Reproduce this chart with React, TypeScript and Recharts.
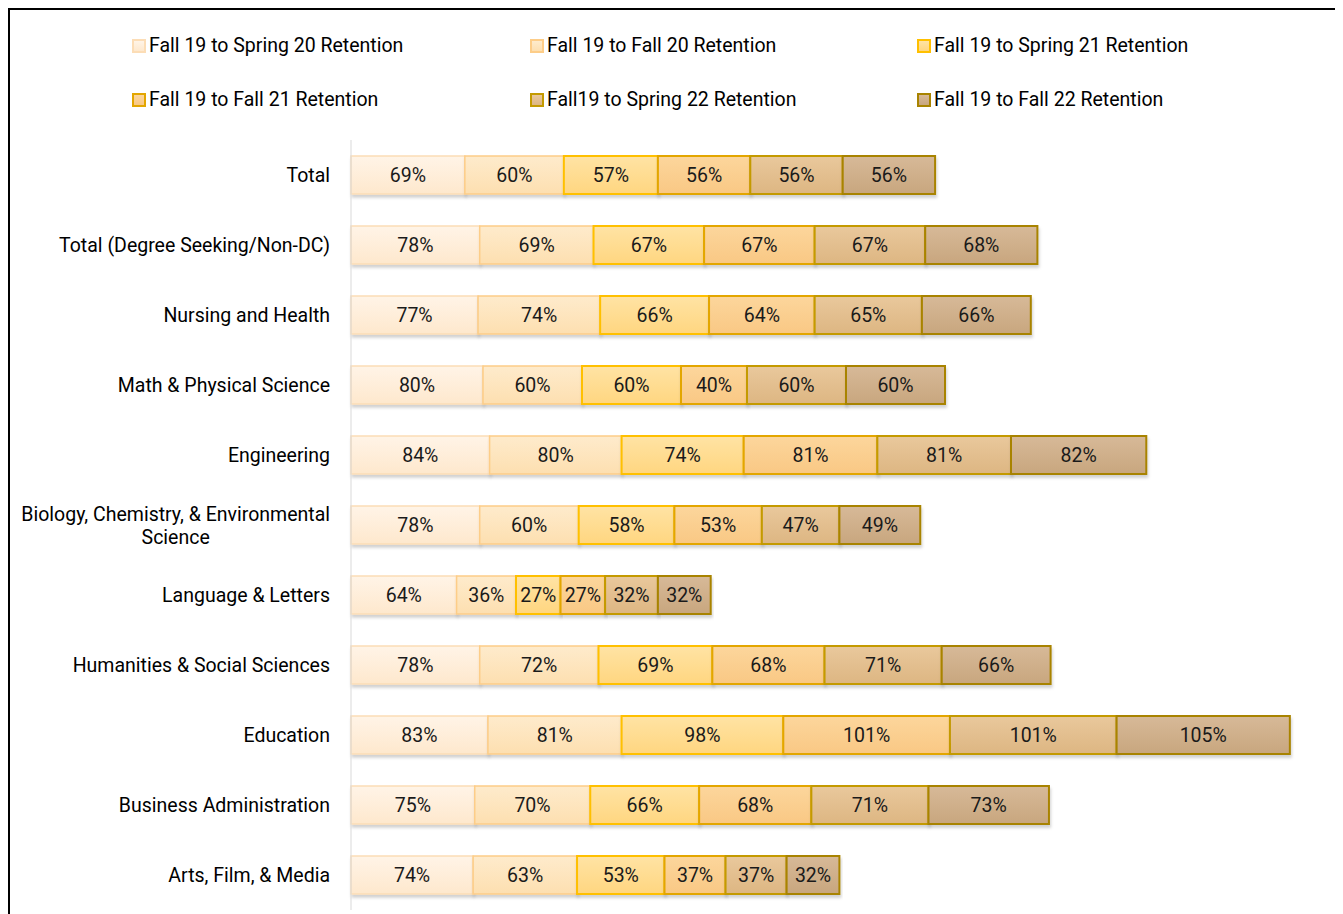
import React from 'react';
import { BarChart, Bar, XAxis, YAxis, LabelList, Rectangle, Text } from 'recharts';

const categories = [
  'Total',
  'Total (Degree Seeking/Non-DC)',
  'Nursing and Health',
  'Math & Physical Science',
  'Engineering',
  'Biology, Chemistry, & Environmental Science',
  'Language & Letters',
  'Humanities & Social Sciences',
  'Education',
  'Business Administration',
  'Arts, Film, & Media',
];

const seriesNames = [
  'Fall 19 to Spring 20 Retention',
  'Fall 19 to Fall 20 Retention',
  'Fall 19 to Spring 21 Retention',
  'Fall 19 to Fall 21 Retention',
  'Fall19 to Spring 22 Retention',
  'Fall 19 to Fall 22 Retention',
];

const spring20 = [69, 78, 77, 80, 84, 78, 64, 78, 83, 75, 74];
const fall20 = [60, 69, 74, 60, 80, 60, 36, 72, 81, 70, 63];
const spring21 = [57, 67, 66, 60, 74, 58, 27, 69, 98, 66, 53];
const fall21 = [56, 67, 64, 40, 81, 53, 27, 68, 101, 68, 37];
const spring22 = [56, 67, 65, 60, 81, 47, 32, 71, 101, 71, 37];
const fall22 = [56, 68, 66, 60, 82, 49, 32, 66, 105, 73, 32];

const seriesValues = [spring20, fall20, spring21, fall21, spring22, fall22];
const seriesKeys = ['s1', 's2', 's3', 's4', 's5', 's6'];

// top colour, bottom colour, border
const STYLES = [
  { top: '#FFF4E7', bottom: '#FEE8CD', stroke: '#FCDDB6' },
  { top: '#FEEBCC', bottom: '#FDDFB0', stroke: '#FDCD88' },
  { top: '#FFE3A4', bottom: '#FFD680', stroke: '#FFC000' },
  { top: '#FCD69C', bottom: '#F9C884', stroke: '#E3A600' },
  { top: '#E9C89C', bottom: '#DDB682', stroke: '#C49A00' },
  { top: '#D7B998', bottom: '#C8A67E', stroke: '#A88300' },
];

const data = categories.map((name, i) => {
  const row: any = { name };
  seriesKeys.forEach((k, j) => {
    row[k] = seriesValues[j][i];
  });
  return row;
});

const FONT = 'Roboto, "Noto Sans", sans-serif';
const FS = 19.5;

let ctx: CanvasRenderingContext2D | null = null;
const measure = (s: string) => {
  if (!ctx) ctx = document.createElement('canvas').getContext('2d');
  if (!ctx) return s.length * 9;
  ctx.font = `${FS}px ${FONT}`;
  return ctx.measureText(s).width;
};

const CategoryTick = (props: any) => {
  const { x, y, payload } = props;
  const label: string = payload.value;
  const right = x - 13;
  if (label.length > 34) {
    // long label wraps onto two centred lines
    const words = label.split(' ');
    const first = words.slice(0, -1).join(' ');
    const second = words[words.length - 1];
    const cx = right - measure(first) / 2;
    return (
      <g>
        <Text x={cx} y={y - 11} textAnchor="middle" verticalAnchor="middle" fontSize={FS} fontFamily={FONT} fill="#000">
          {first}
        </Text>
        <Text x={cx} y={y + 12} textAnchor="middle" verticalAnchor="middle" fontSize={FS} fontFamily={FONT} fill="#000">
          {second}
        </Text>
      </g>
    );
  }
  return (
    <Text x={right} y={y} textAnchor="end" verticalAnchor="middle" fontSize={FS} fontFamily={FONT} fill="#000">
      {label}
    </Text>
  );
};

const Legend6 = () => (
  <div style={{ position: 'absolute', left: 0, top: 0, width: '100%', height: 120, fontFamily: FONT, fontSize: FS }}>
    {seriesNames.map((n, i) => {
      const col = i % 3;
      const row = Math.floor(i / 3);
      const left = [122, 520, 907][col];
      const top = [25, 79][row];
      return (
        <div key={n} style={{ position: 'absolute', left, top, display: 'flex', alignItems: 'center', whiteSpace: 'nowrap', lineHeight: '22px' }}>
          <span
            style={{
              display: 'inline-block',
              width: 10,
              height: 10,
              border: `2px solid ${STYLES[i].stroke}`,
              background: `linear-gradient(${STYLES[i].top}, ${STYLES[i].bottom})`,
              marginRight: 3,
            }}
          />
          <span>{n}</span>
        </div>
      );
    })}
  </div>
);

const App = () => {
  return (
    <div
      style={{
        position: 'relative',
        width: 1329,
        height: 920,
        borderTop: '2px solid #000',
        borderLeft: '2px solid #000',
        borderRight: '2px solid #000',
        background: '#fff',
      }}
    >
      <Legend6 />
      <BarChart
        width={1329}
        height={904}
        data={data}
        layout="vertical"
        margin={{ top: 130, right: 31, bottom: 4, left: 0 }}
        barSize={38}
      >
        <defs>
          {STYLES.map((s, i) => (
            <linearGradient key={i} id={`grad${i}`} x1="0" y1="0" x2="0" y2="1">
              <stop offset="0%" stopColor={s.top} />
              <stop offset="100%" stopColor={s.bottom} />
            </linearGradient>
          ))}
          <filter id="barShadow" x="-5%" y="-20%" width="110%" height="160%">
            <feDropShadow dx="1" dy="3" stdDeviation="1.5" floodColor="#000" floodOpacity="0.18" />
          </filter>
        </defs>
        <XAxis type="number" domain={[0, 580]} hide />
        <YAxis
          type="category"
          dataKey="name"
          width={341}
          axisLine={{ stroke: '#D9D9D9', strokeWidth: 1 }}
          tickLine={false}
          tick={<CategoryTick />}
          interval={0}
        />
        {seriesKeys.map((k, i) => (
          <Bar
            key={k}
            dataKey={k}
            name={seriesNames[i]}
            stackId="a"
            fill={`url(#grad${i})`}
            stroke={STYLES[i].stroke}
            strokeWidth={i < 2 ? 1.5 : 2}
            isAnimationActive={false}
            shape={(p: any) => <Rectangle {...p} filter="url(#barShadow)" />}
          >
            <LabelList
              dataKey={k}
              position="center"
              formatter={(v: any) => `${v}%`}
              style={{ fontSize: FS, fontFamily: FONT, fill: '#1a1a1a' }}
            />
          </Bar>
        ))}
      </BarChart>
    </div>
  );
};

export default App;
